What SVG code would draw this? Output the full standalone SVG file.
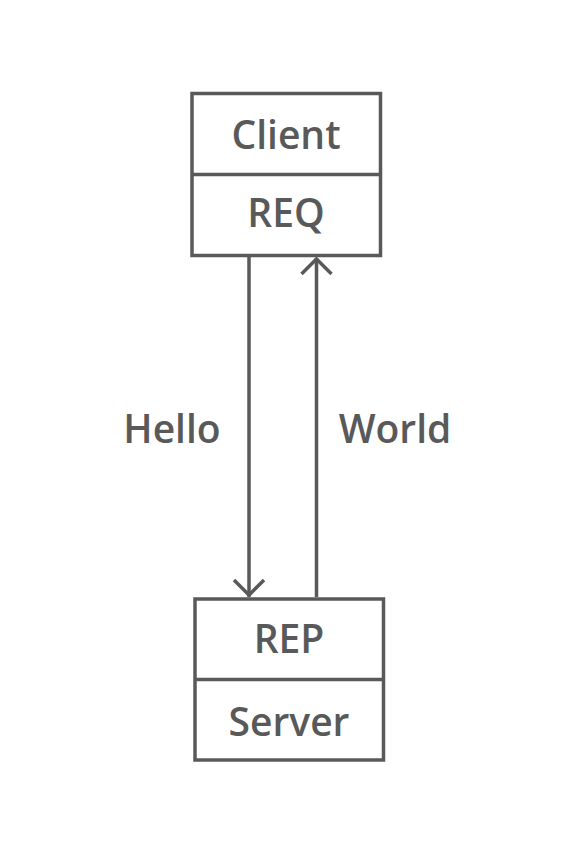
<svg xmlns="http://www.w3.org/2000/svg" width="575" height="855" viewBox="0 0 575 855">
<style>
.box{fill:none;stroke:#595959;stroke-width:3.5}
.edge{fill:none;stroke:#595959;stroke-width:3.5}
.head{fill:none;stroke:#595959;stroke-width:3.5;stroke-linecap:butt;stroke-linejoin:miter}
text{font-family:"Source Sans Pro","Open Sans","Noto Sans","Liberation Sans",sans-serif;font-size:39px;font-weight:600;fill:#595959;text-anchor:middle}
</style>
<rect width="575" height="855" fill="#ffffff"/>
<g id="client">
<rect class="box" x="192" y="93.5" width="188.5" height="162"/>
<line class="box" x1="192" y1="174.5" x2="380.5" y2="174.5"/>
<text x="286" y="148.5">Client</text>
<text x="286" y="227">REQ</text>
</g>
<g id="server">
<rect class="box" x="195" y="599" width="188.5" height="161"/>
<line class="box" x1="195" y1="679.5" x2="383.5" y2="679.5"/>
<text x="289" y="653">REP</text>
<text x="289" y="735.5">Server</text>
</g>
<g id="connectors">
<line class="edge" x1="249" y1="256" x2="249" y2="597"/>
<polyline class="head" points="234,580 249,595 264,580"/>
<line class="edge" x1="316.5" y1="597" x2="316.5" y2="258"/>
<polyline class="head" points="301.5,274 316.5,259 331.5,274"/>
<text x="172" y="442.5">Hello</text>
<text x="395" y="442.5">World</text>
</g>
</svg>
